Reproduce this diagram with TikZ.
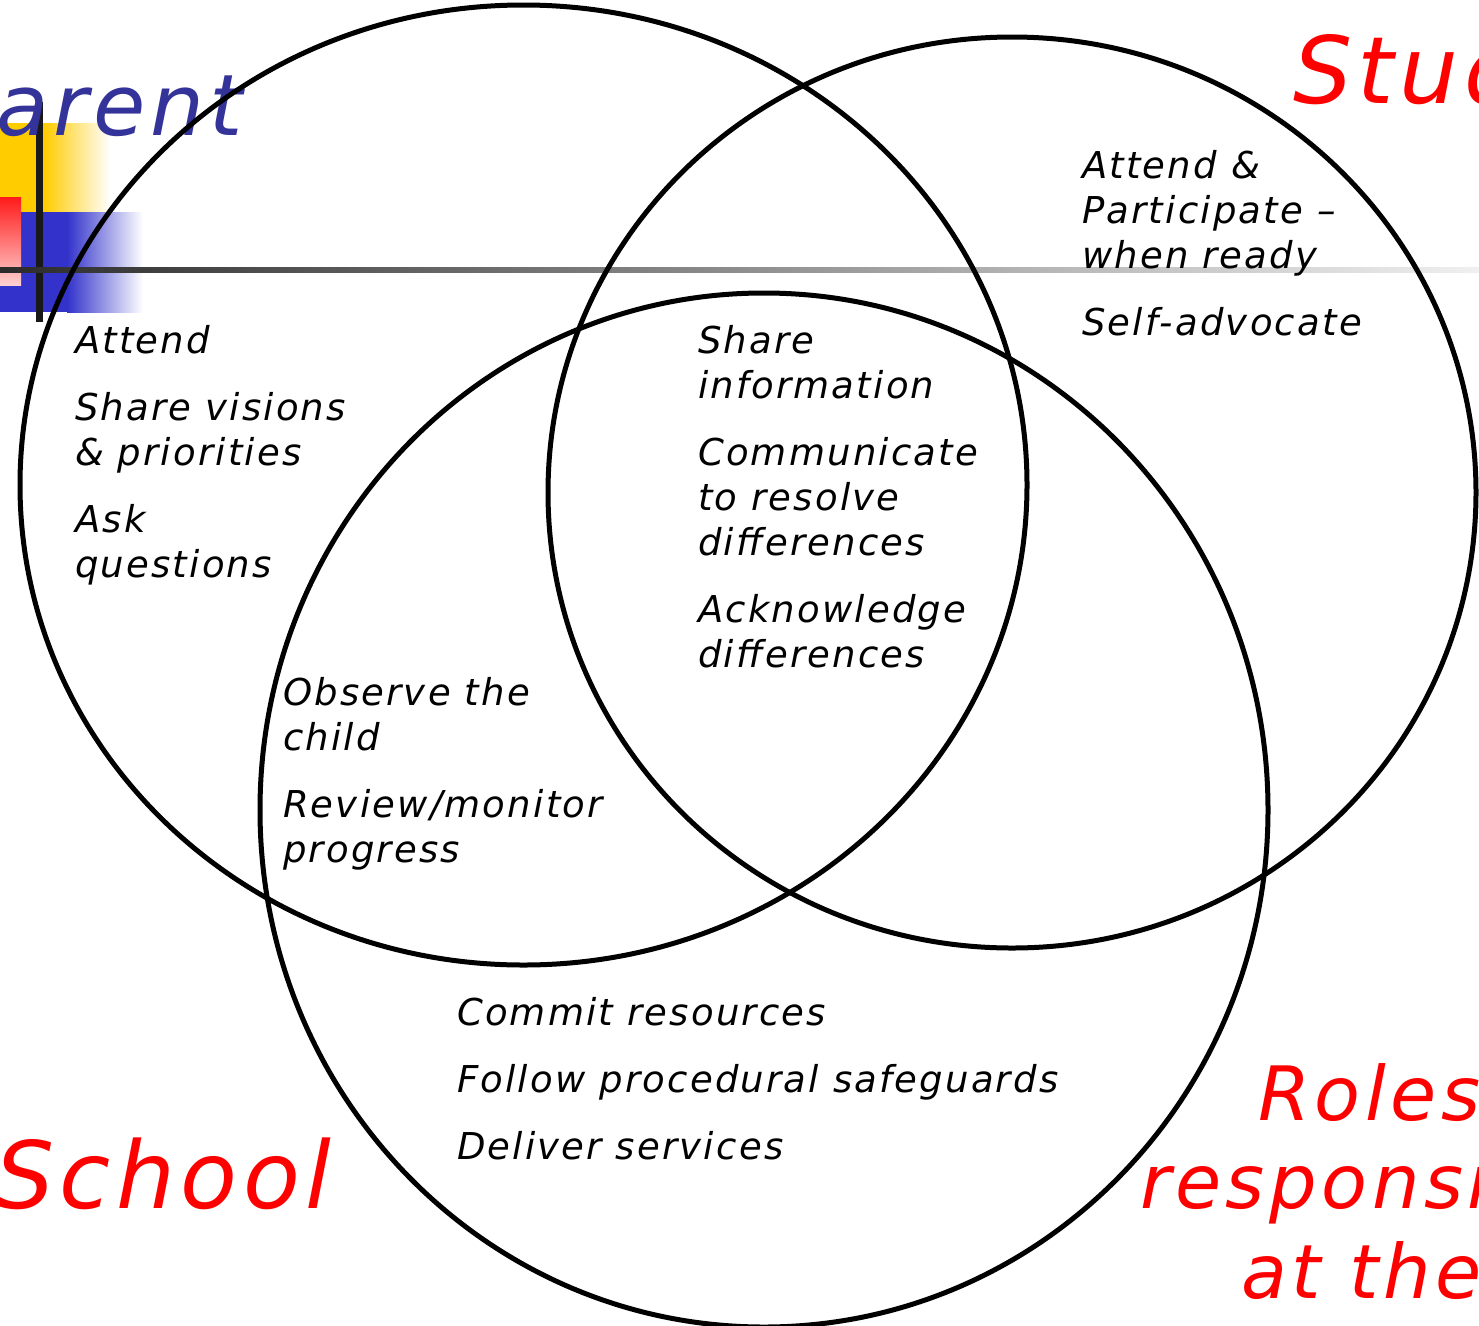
\documentclass[tikz,border=0pt]{standalone}
\usepackage{fontspec}
\setmainfont{DejaVu Sans}[LetterSpace=6]
\usepackage{xcolor}
\usetikzlibrary{shapes.geometric}

\definecolor{PBlue}{HTML}{333399}
\definecolor{BarYellow}{HTML}{FFCC00}
\definecolor{BarBlue}{HTML}{3333CC}
\definecolor{BarRed}{HTML}{FF1A1A}
\definecolor{BarPink}{HTML}{FFD0D0}

\begin{document}
\begin{tikzpicture}[x=1pt, y=-1pt, every node/.style={inner sep=0pt, outer sep=0pt},
	ring/.style={draw, ellipse, line width=5pt},
	role/.style={anchor=base west, font=\fontsize{37}{45}\selectfont\itshape},
	party/.style={anchor=base west, text=red, font=\fontsize{93}{100}\selectfont\itshape},
	heading/.style={anchor=base west, text=red, font=\fontsize{75}{88}\selectfont\itshape}]

	\useasboundingbox (0,0) rectangle (1479,1325);

	% slide template corner
	\fill[BarYellow] (0,123) rectangle (44,212);
	\shade[left color=BarYellow, right color=white] (44,123) rectangle (110,212);
	\fill[BarBlue] (0,212) rectangle (67,312);
	\shade[left color=BarBlue, right color=white] (67,212) rectangle (143,312);
	\shade[top color=BarRed, bottom color=BarPink] (0,197) rectangle (21,285);
	\fill[black!90] (35.5,102) rectangle (42.5,322);
	\shade[left color=black!83, right color=black!6] (0,267.5) rectangle (1479,272.5);

	\node[anchor=base west, text=PBlue, font=\fontsize{85}{96}\selectfont\itshape] (Pt) at (-60,135) {Parent};

	% the three circles
	\node[ring, minimum width=1007, minimum height=960] (P) at (523.5,485) {};
	\node[ring, minimum width=928, minimum height=911] (S) at (1012,492.5) {};
	\node[ring, minimum width=1008, minimum height=1034] (Sc) at (764,810) {};

	\node[party] (St) at (1293,103) {Student};
	\node[party] (Sct) at (-5,1208) {School};

	\node[heading] (R1) at (1258,1120) {Roles};
	\node[heading] (R2) at (1140,1208) {responsibilities};
	\node[heading] (R3) at (1241,1298) {at the};

	% roles in each part
	\node[role] (pa) at (75,353) {\begin{tabular}[t]{@{}l@{}}Attend\\[22pt]Share visions\\\& priorities\\[22pt]Ask\\questions\end{tabular}};
	\node[role] (st) at (1082,178) {\begin{tabular}[t]{@{}l@{}}Attend \&\\Participate –\\when ready\\[22pt]Self-advocate\end{tabular}};
	\node[role] (all) at (698,353) {\begin{tabular}[t]{@{}l@{}}Share\\information\\[22pt]Communicate\\to resolve\\differences\\[22pt]Acknowledge\\differences\end{tabular}};
	\node[role] (ps) at (283,705) {\begin{tabular}[t]{@{}l@{}}Observe the\\child\\[22pt]Review/monitor\\progress\end{tabular}};
	\node[role] (sc) at (457,1025) {\begin{tabular}[t]{@{}l@{}}Commit resources\\[22pt]Follow procedural safeguards\\[22pt]Deliver services\end{tabular}};

\end{tikzpicture}
\end{document}
